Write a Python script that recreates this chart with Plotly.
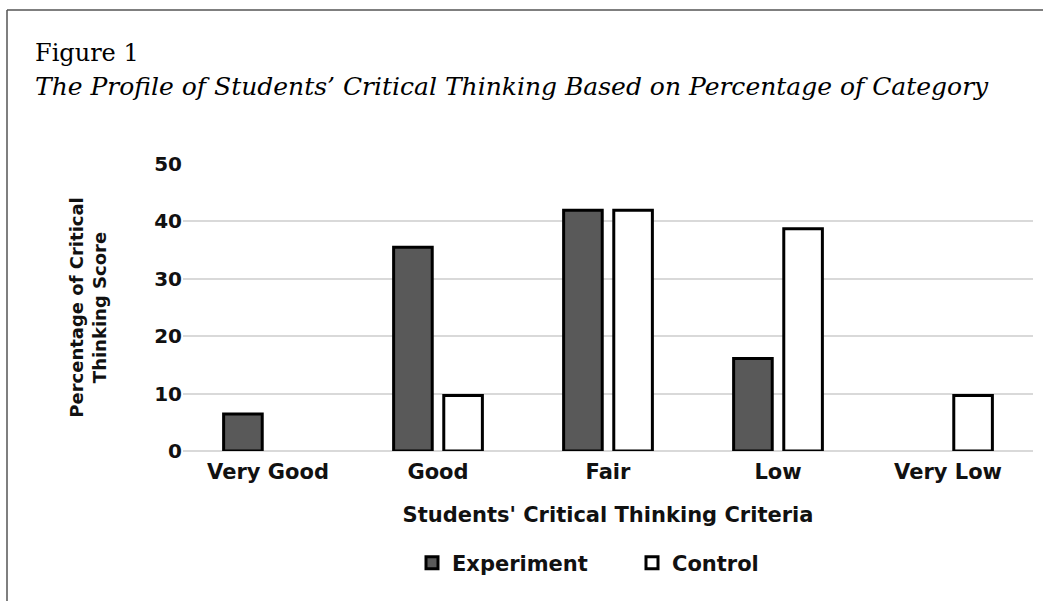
import plotly.graph_objects as go

categories = ["Very Good", "Good", "Fair", "Low", "Very Low"]
experiment = [6.45, 35.48, 41.94, 16.13, 0]
control = [0, 9.68, 41.94, 38.71, 9.68]
y_ticks = [0, 10, 20, 30, 40, 50]

W, H = 1043, 601
ML, MR, MT, MB = 183, 10, 164, 150
PW, PH = W - ML - MR, H - MT - MB


def px_x(px):
    return (px - ML) / PW


def px_y(py):
    return (H - MB - py) / PH


def drawn(values):
    # a 0 % category has no visible bar in the figure
    return [v if v else None for v in values]


fig = go.Figure()
fig.add_bar(
    name="Experiment", x=categories, y=drawn(experiment),
    marker=dict(color="#595959", line=dict(color="#000000", width=3)),
)
fig.add_bar(
    name="Control", x=categories, y=drawn(control),
    marker=dict(color="#ffffff", line=dict(color="#000000", width=3)),
)

bold = dict(family="DejaVu Sans", size=21, color="#111111", weight="bold")

fig.update_layout(
    template="none",
    width=W, height=H,
    margin=dict(l=ML, r=MR, t=MT, b=MB, pad=0),
    paper_bgcolor="white", plot_bgcolor="white",
    barmode="group", bargap=0.41, bargroupgap=0.23,
    font=dict(family="DejaVu Sans", size=21, color="#111111"),
    xaxis=dict(
        showgrid=False, showline=False, zeroline=False, ticks="",
        tickfont=bold, ticklabelstandoff=6,
        title=dict(text="Students' Critical Thinking Criteria", font=bold, standoff=24),
    ),
    yaxis=dict(
        range=[0, 50], tickvals=y_ticks, ticks="",
        showgrid=True, gridcolor="#d9d9d9", gridwidth=2,
        zeroline=True, zerolinecolor="#d9d9d9", zerolinewidth=2,
        showline=False,
        tickfont=dict(family="DejaVu Sans", size=20, color="#111111", weight="bold"),
        title=dict(text="Percentage of Critical<br>Thinking Score",
                   font=dict(family="DejaVu Sans", size=18, color="#111111", weight="bold"),
                   standoff=42),
    ),
    legend=dict(
        orientation="h", x=px_x(412), xanchor="left", y=px_y(563), yanchor="middle",
        font=bold, bgcolor="rgba(0,0,0,0)", entrywidth=175, entrywidthmode="pixels",
    ),
    annotations=[
        dict(text="Figure 1", xref="paper", yref="paper", x=px_x(33), y=px_y(53),
             xanchor="left", yanchor="middle", showarrow=False,
             font=dict(family="DejaVu Serif", size=24, color="#000000")),
        dict(text="<i>The Profile of Students\u2019 Critical Thinking Based on Percentage of Category</i>",
             xref="paper", yref="paper", x=px_x(33), y=px_y(86),
             xanchor="left", yanchor="middle", showarrow=False,
             font=dict(family="DejaVu Serif", size=25, color="#000000")),
    ],
    shapes=[
        dict(type="line", xref="paper", yref="paper",
             x0=px_x(7), x1=px_x(W), y0=px_y(10), y1=px_y(10),
             line=dict(color="#555555", width=1.5)),
        dict(type="line", xref="paper", yref="paper",
             x0=px_x(7), x1=px_x(7), y0=px_y(10), y1=px_y(H),
             line=dict(color="#555555", width=1.5)),
    ],
)

fig.write_html("out.html")
